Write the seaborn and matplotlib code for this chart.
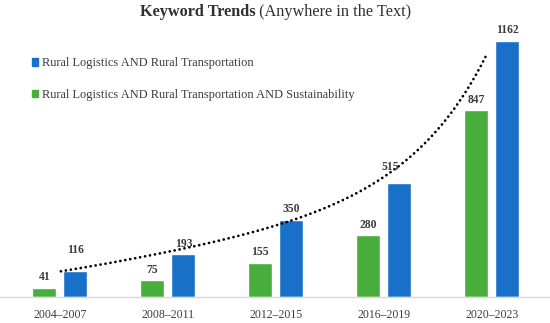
import numpy as np
import pandas as pd
import matplotlib
matplotlib.use("Agg")
import matplotlib.pyplot as plt
import seaborn as sns
from matplotlib.patches import Patch

# --- data ---
periods = ["2004–2007", "2008–2011", "2012–2015", "2016–2019", "2020–2023"]
series_blue = "Rural Logistics AND Rural Transportation"
series_green = "Rural Logistics AND Rural Transportation AND Sustainability"
values_blue = [116, 193, 350, 515, 1162]
values_green = [41, 75, 155, 280, 847]

GREEN = "#47ae3e"
BLUE = "#1870c8"
TXT = "#3c3c3c"

df = pd.DataFrame({
    "period": periods * 2,
    "count": values_green + values_blue,
    "series": [series_green] * len(periods) + [series_blue] * len(periods),
})

sns.set_style("white")
plt.rcParams["font.family"] = ["Liberation Serif", "DejaVu Serif"]

fig = plt.figure(figsize=(5.5, 3.23), dpi=100)
ax = fig.add_axes([0.0, 26.3 / 323, 1.0, 286.7 / 323])

sns.barplot(data=df, x="period", y="count", hue="series",
            hue_order=[series_green, series_blue],
            palette={series_green: GREEN, series_blue: BLUE},
            saturation=1, width=0.576, gap=0.23, legend=False, ax=ax)

# value labels (116 and 515 were nudged off the trendline in the original)
label_off = {series_green: [(0, 0)] * 5,
             series_blue: [(0, 8), (0, 0), (0, 0), (-6.5, 4), (0, 0)]}
for cont, name in zip(ax.containers, [series_green, series_blue]):
    for bar, (dx, dy) in zip(cont, label_off[name]):
        ax.annotate(f"{bar.get_height():.0f}",
                    (bar.get_x() + bar.get_width() / 2, bar.get_height()),
                    xytext=(dx, 3 + dy), textcoords="offset points",
                    ha="center", va="bottom", fontsize=8.4, fontweight="bold",
                    color=TXT)

# trendline on the blue series (cubic fit in log space)
xb = np.arange(len(values_blue))
coef = np.polyfit(xb - 2, np.log(values_blue), 3)
xt = np.linspace(0.01, 3.955, 200)
ax.plot(xt, np.exp(np.polyval(coef, xt - 2)), color="black", lw=2.0,
        ls=(0, (0.01, 1.8)), dash_capstyle="round")

ax.set_xlim(-0.554, 4.54)
ax.set_ylim(0, 1301)
ax.set_xlabel("")
ax.set_ylabel("")
ax.set_yticks([])
ax.tick_params(axis="x", length=0, labelsize=8.5, labelcolor=TXT, pad=8.5)
for s in ["top", "right", "left"]:
    ax.spines[s].set_visible(False)
ax.spines["bottom"].set_color("#d9d9d9")
ax.spines["bottom"].set_linewidth(1)

handles = [Patch(color=BLUE), Patch(color=GREEN)]
ax.legend(handles, [series_blue, series_green], loc="upper left",
          bbox_to_anchor=(31.7 / 550, 1 - 57.4 / 323),
          bbox_transform=fig.transFigure, frameon=False, fontsize=8.9,
          borderpad=0, borderaxespad=0,
          handlelength=0.53, handleheight=0.53, handletextpad=0.27,
          labelspacing=1.55, labelcolor=TXT)

# title: bold part + regular part, centred together
t1 = fig.text(0, 0.963, "Keyword Trends", ha="left", va="center",
              fontsize=11.7, fontweight="bold", color="#303030")
t2 = fig.text(0, 0.963, " (Anywhere in the Text)", ha="left", va="center",
              fontsize=11.7, color="#303030")
fig.canvas.draw()
w1 = t1.get_window_extent().width / fig.bbox.width
w2 = t2.get_window_extent().width / fig.bbox.width
x0 = 275.5 / 550 - (w1 + w2) / 2
t1.set_x(x0)
t2.set_x(x0 + w1)

fig.savefig("out.png", dpi=100)
